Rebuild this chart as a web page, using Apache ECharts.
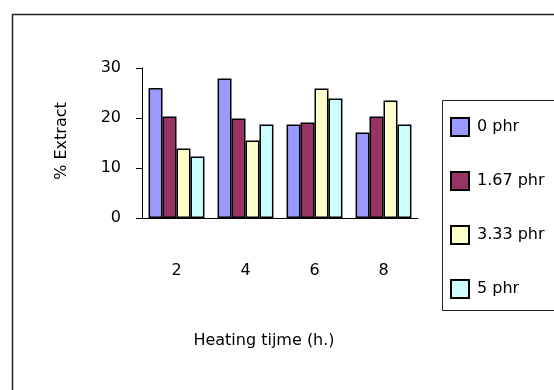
<!DOCTYPE html>
<html>
<head>
<meta charset="utf-8">
<script src="https://cdn.jsdelivr.net/npm/echarts@6/dist/echarts.min.js"></script>
<style>html,body{margin:0;padding:0;background:#fff}#c{width:554px;height:390px}</style>
</head>
<body>
<div id="c"></div>
<script>
var categories = ['2', '4', '6', '8'];
var seriesNames = ['0 phr', '1.67 phr', '3.33 phr', '5 phr'];
var s0 = [26, 27.9, 18.7, 17.1];
var s1 = [20.3, 19.9, 19.1, 20.3];
var s2 = [13.9, 15.5, 25.9, 23.5];
var s3 = [12.3, 18.7, 23.9, 18.7];
var colors = ['#9999FF', '#993366', '#FFFFCC', '#CCFFFF'];
var yTicks = [0, 10, 20, 30];

var font = '"DejaVu Sans", Verdana, sans-serif';
var chart = echarts.init(document.getElementById('c'));
var data = [s0, s1, s2, s3];
chart.setOption({
  animation: false,
  textStyle: {fontFamily: font},
  grid: {left: 142, right: 136, top: 68, bottom: 172},
  legend: {
    orient: 'vertical', left: 450, top: 117, itemWidth: 18, itemHeight: 18, itemGap: 34,
    padding: 0, icon: 'rect',
    textStyle: {fontSize: 16, color: '#000', fontFamily: font, padding: [0, 0, 0, 3]},
    data: seriesNames
  },
  xAxis: {
    type: 'category', data: categories,
    axisLine: {lineStyle: {color: '#000', width: 1}},
    axisTick: {length: 8, lineStyle: {color: '#000'}},
    axisLabel: {margin: 45, fontSize: 16, color: '#000', fontFamily: font}
  },
  yAxis: {
    type: 'value', min: yTicks[0], max: yTicks[yTicks.length - 1], interval: 10,
    splitLine: {show: false},
    axisLine: {show: true, lineStyle: {color: '#000', width: 1}},
    axisTick: {show: true, length: 6, lineStyle: {color: '#000'}},
    axisLabel: {margin: 21, fontSize: 16, color: '#000', fontFamily: font}
  },
  graphic: [
    {type: 'rect', left: 10, top: 12, shape: {width: 560, height: 400}, style: {fill: 'none', stroke: '#222', lineWidth: 1.5}, silent: true},
    {type: 'rect', left: 440, top: 98, shape: {width: 112, height: 210}, style: {fill: 'none', stroke: '#222', lineWidth: 1}, silent: true, z: -1},
    {type: 'text', x: 62, y: 141, rotation: Math.PI / 2, style: {text: '% Extract', font: '16px ' + font, fill: '#000', textAlign: 'center', textVerticalAlign: 'middle'}},
    {type: 'text', x: 264, y: 341, style: {text: 'Heating tijme (h.)', font: '16px ' + font, fill: '#000', textAlign: 'center', textVerticalAlign: 'middle'}}
  ],
  series: seriesNames.map(function (n, i) {
    return {
      name: n, type: 'bar', data: data[i], barGap: '0%', barCategoryGap: '19%',
      itemStyle: {color: colors[i], borderColor: '#000', borderWidth: 1.5}
    };
  })
});
</script>
</body>
</html>
